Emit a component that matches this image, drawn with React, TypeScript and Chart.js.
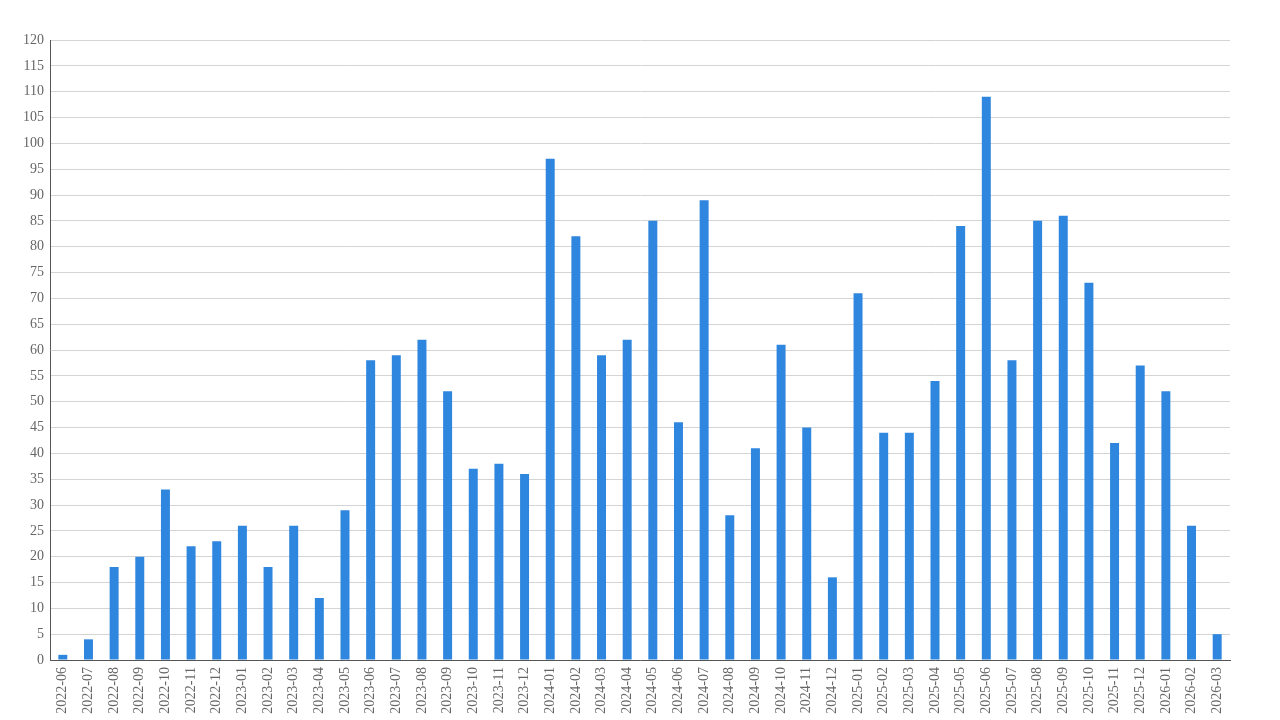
import React, { useEffect, useRef } from "react";
import { Chart, registerables } from "chart.js";

Chart.register(...registerables);

const categories: string[] = [
  "2022-06", "2022-07", "2022-08", "2022-09", "2022-10", "2022-11", "2022-12",
  "2023-01", "2023-02", "2023-03", "2023-04", "2023-05", "2023-06", "2023-07",
  "2023-08", "2023-09", "2023-10", "2023-11", "2023-12", "2024-01", "2024-02",
  "2024-03", "2024-04", "2024-05", "2024-06", "2024-07", "2024-08", "2024-09",
  "2024-10", "2024-11", "2024-12", "2025-01", "2025-02", "2025-03", "2025-04",
  "2025-05", "2025-06", "2025-07", "2025-08", "2025-09", "2025-10", "2025-11",
  "2025-12", "2026-01", "2026-02", "2026-03",
];

const counts: number[] = [
  1, 4, 18, 20, 33, 22, 23,
  26, 18, 26, 12, 29, 58, 59,
  62, 52, 37, 38, 36, 97, 82,
  59, 62, 85, 46, 89, 28, 41,
  61, 45, 16, 71, 44, 44, 54,
  84, 109, 58, 85, 86, 73, 42,
  57, 52, 26, 5,
];

const yMax = 120;
const yStep = 5;

export default function App() {
  const ref = useRef<HTMLCanvasElement | null>(null);

  useEffect(() => {
    if (!ref.current) return;
    const font = { family: "'Liberation Serif', 'Times New Roman', serif", size: 14 };
    const chart = new Chart(ref.current, {
      type: "bar",
      data: {
        labels: categories,
        datasets: [
          {
            data: counts,
            backgroundColor: "#2E86DE",
            borderWidth: 0,
            barPercentage: 0.35,
            categoryPercentage: 1,
          },
        ],
      },
      options: {
        animation: false,
        responsive: true,
        maintainAspectRatio: false,
        layout: { padding: { top: 40, right: 50, left: 0, bottom: 0 } },
        plugins: { legend: { display: false }, tooltip: { enabled: false } },
        scales: {
          x: {
            grid: { display: false, drawTicks: false },
            border: { display: true, color: "#555555", width: 1 },
            ticks: {
              color: "#666666",
              font,
              minRotation: 90,
              maxRotation: 90,
              autoSkip: false,
              padding: 7,
            },
            afterFit: (s: any) => {
              s.height = 60;
            },
          },
          y: {
            min: 0,
            max: yMax,
            grid: { color: "#d4d4d4", drawTicks: false, lineWidth: 1 },
            border: { display: true, color: "#555555", width: 1 },
            ticks: {
              stepSize: yStep,
              color: "#666666",
              font,
              padding: 6,
            },
            afterFit: (s: any) => {
              s.width = 50;
            },
          },
        },
      },
    });
    return () => chart.destroy();
  }, []);

  return (
    <div style={{ position: "fixed", left: 0, top: 0, width: 1280, height: 720, background: "#ffffff" }}>
      <canvas ref={ref} />
    </div>
  );
}
